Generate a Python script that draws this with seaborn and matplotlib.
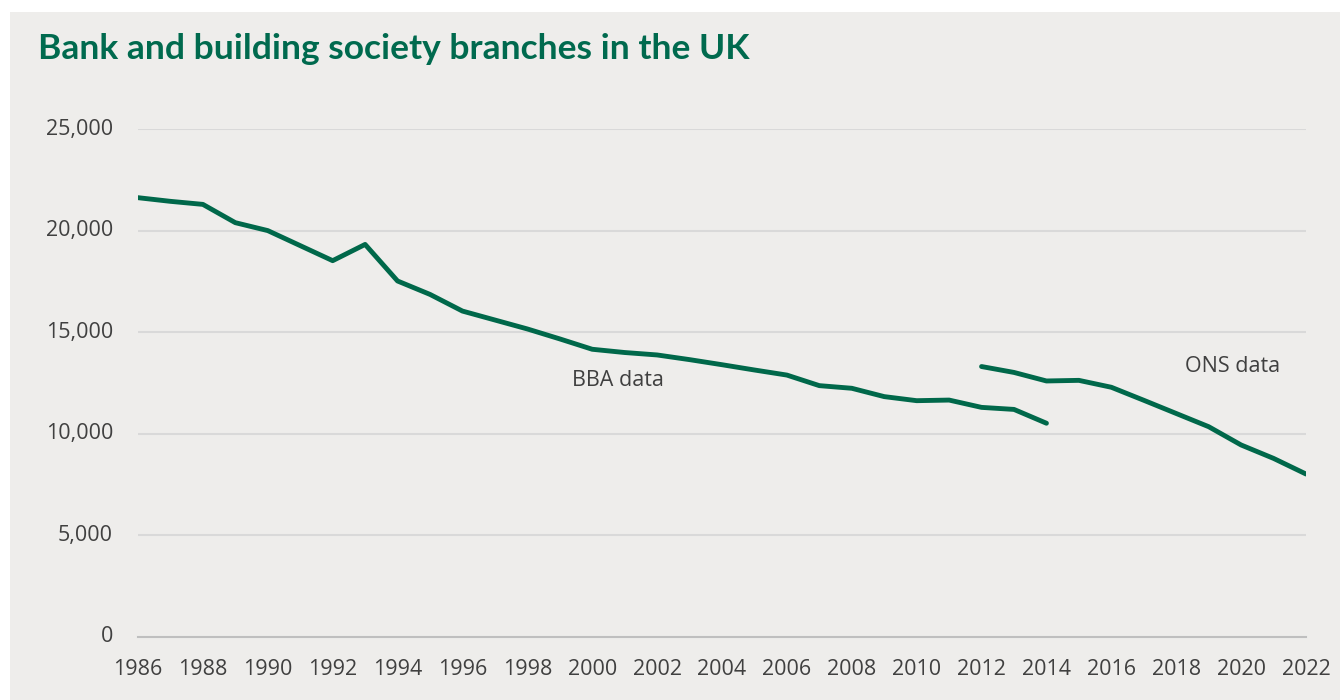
import numpy as np
import pandas as pd
import seaborn as sns
import matplotlib.pyplot as plt
from matplotlib.patches import Rectangle

# BBA series (1986-2014) and ONS series (2012-2022)
bba_years = list(range(1986, 2015))
bba_branches = [21620, 21440, 21290, 20390, 20000, 19260, 18520, 19320, 17520, 16860,
                16040, 15600, 15160, 14670, 14160, 14000, 13880, 13650, 13400, 13140,
                12890, 12370, 12240, 11830, 11630, 11660, 11300, 11200, 10520]
ons_years = list(range(2012, 2023))
ons_branches = [13310, 13020, 12600, 12630, 12290, 11650, 11000, 10350, 9450, 8790, 8020]

bba = pd.DataFrame({'year': bba_years, 'branches': bba_branches})
ons = pd.DataFrame({'year': ons_years, 'branches': ons_branches})

bg = '#eeedeb'
green = '#00684a'
txt = '#404040'

sns.set_style('white')
plt.rcParams['font.family'] = ['Open Sans', 'DejaVu Sans']

fig = plt.figure(figsize=(13.4, 7), dpi=100)
fig.patch.set_facecolor('white')
fig.patches.append(Rectangle((10 / 1340, 0), 1, 1 - 12 / 700, transform=fig.transFigure,
                             facecolor=bg, edgecolor='none', zorder=-10))

ax = fig.add_axes([138 / 1340, 63 / 700, 1168 / 1340, 508 / 700])
ax.set_facecolor(bg)

sns.lineplot(data=bba, x='year', y='branches', color=green, linewidth=3.5, ax=ax,
             solid_capstyle='round')
sns.lineplot(data=ons, x='year', y='branches', color=green, linewidth=3.5, ax=ax,
             solid_capstyle='round')

ax.set_xlim(1986, 2022)
ax.set_ylim(0, 25000)
ax.set_yticks(np.arange(0, 25001, 5000))
ax.set_yticklabels([f'{v:,}' for v in range(0, 25001, 5000)])
ax.set_xticks(range(1986, 2023))
ax.set_xticklabels([str(y) if y % 2 == 0 else '' for y in range(1986, 2023)])
ax.set_xlabel('')
ax.set_ylabel('')

for v in range(5000, 25001, 5000):
    ax.axhline(v, color='#d9d9d9', linewidth=1.5, zorder=0)

sns.despine(ax=ax, left=True, top=True, right=True)
ax.spines['bottom'].set_color('#bfbfbf')
ax.spines['bottom'].set_linewidth(1.5)
ax.tick_params(axis='x', direction='out', length=7, width=1.5, color='#bfbfbf',
               labelsize=15.5, labelcolor=txt, pad=9)
ax.tick_params(axis='y', length=0, labelsize=15.5, labelcolor=txt, pad=18)
for lab in ax.get_yticklabels():
    lab.set_verticalalignment('center')

ax.text(2000.8, 12600, 'BBA data', fontsize=15.5, color=txt, ha='center', va='center')
ax.text(2019.75, 13290, 'ONS data', fontsize=15.5, color=txt, ha='center', va='center')

fig.text(38 / 1340, 1 - 49 / 700, 'Bank and building society branches in the UK',
         fontsize=25.5, fontweight='bold', color='#006a4e', family=['Lato', 'DejaVu Sans'],
         va='center', ha='left')

fig.savefig('out.png', dpi=100, facecolor=fig.get_facecolor())
